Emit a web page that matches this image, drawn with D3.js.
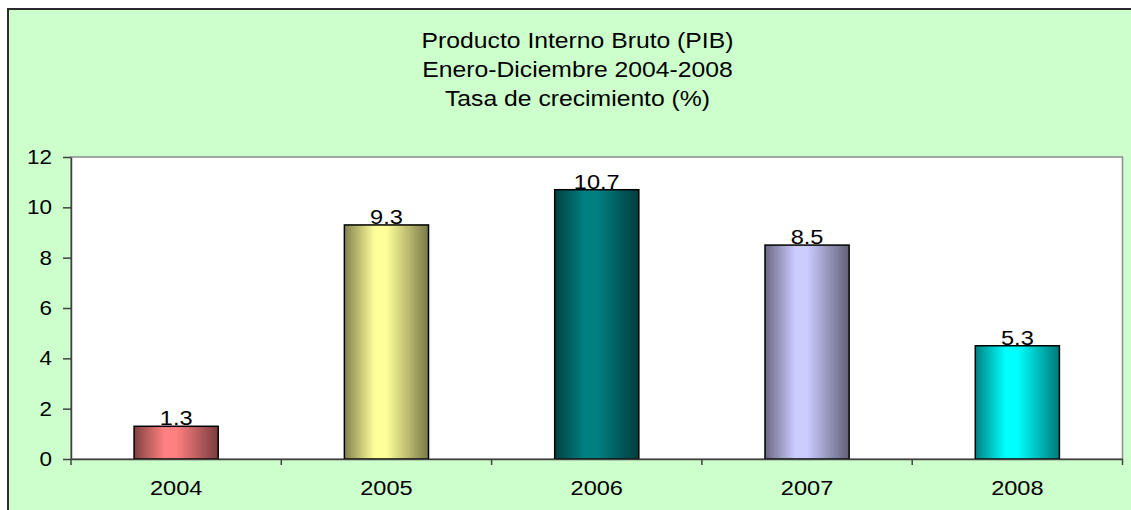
<!DOCTYPE html>
<html>
<head>
<meta charset="utf-8">
<script src="https://cdn.jsdelivr.net/npm/d3@7"></script>
<style>
    body { margin: 0; background: #ffffff; }
    text { font-family: "Liberation Sans", Arial, sans-serif; fill: #000; }
</style>
</head>
<body>
<div id="chart"></div>
<script>
// data
const years = ["2004", "2005", "2006", "2007", "2008"]
const growth = [1.3, 9.3, 10.7, 8.5, 4.5]
const labels = ["1.3", "9.3", "10.7", "8.5", "5.3"]
const y_ticks = [0, 2, 4, 6, 8, 10, 12]
const title_lines = ["Producto Interno Bruto (PIB)", "Enero-Diciembre 2004-2008", "Tasa de crecimiento (%)"]

// excel style palette, one per bar
const bar_colors = ["#FF8080", "#FFFF99", "#008080", "#CCCCFF", "#00FFFF"]

const W = 1131, H = 510
const stretch = 1.15  // the original picture is a bit wide
const plot = {left: 71, top: 157, right: 1122.5, bottom: 459}

let svg = d3.select("#chart")
    .append("svg")
    .attr("width", W)
    .attr("height", H)

// chart area with dark frame
svg.append("rect")
    .attr("x", 8)
    .attr("y", 9)
    .attr("width", W + 10)
    .attr("height", H + 10)
    .attr("fill", "#CCFFCC")
    .attr("stroke", "#2b2b2b")
    .attr("stroke-width", 2)

function stretched_text(g, x, y, str, size, anchor) {
    return g.append("text")
        .attr("transform", "translate(" + x + "," + y + ") scale(" + stretch + ",1)")
        .attr("text-anchor", anchor)
        .style("font-size", size + "px")
        .text(str)
}

// title
title_lines.forEach(function (t, i) {
    stretched_text(svg, W / 2 + 12, 48 + i * 29, t, 21.5, "middle")
})

const x = d3.scaleBand()
    .domain(years)
    .range([plot.left, plot.right])
    .padding(0)
const y = d3.scaleLinear()
    .domain([0, 12])
    .range([plot.bottom, plot.top])

// plot background
svg.append("rect")
    .attr("x", plot.left)
    .attr("y", plot.top)
    .attr("width", plot.right - plot.left)
    .attr("height", plot.bottom - plot.top)
    .attr("fill", "#ffffff")
    .attr("stroke", "#8c8c8c")
    .attr("stroke-width", 1.5)

// gradients for the bars
let defs = svg.append("defs")
bar_colors.forEach(function (c, i) {
    let grad = defs.append("linearGradient")
        .attr("id", "bar_grad_" + i)
        .attr("x1", "0%").attr("x2", "100%")
        .attr("y1", "0%").attr("y2", "0%")
    grad.append("stop").attr("offset", "0%").attr("stop-color", d3.color(c).darker(1.9))
    grad.append("stop").attr("offset", "36%").attr("stop-color", c)
    grad.append("stop").attr("offset", "50%").attr("stop-color", c)
    grad.append("stop").attr("offset", "100%").attr("stop-color", d3.color(c).darker(2.1))
})

const bar_w = x.bandwidth() * 0.4

svg.selectAll(".bar")
    .data(growth)
    .enter()
    .append("rect")
    .attr("class", "bar")
    .attr("x", function (d, i) { return x(years[i]) + (x.bandwidth() - bar_w) / 2 })
    .attr("y", function (d) { return y(d) })
    .attr("width", bar_w)
    .attr("height", function (d) { return y(0) - y(d) })
    .attr("fill", function (d, i) { return "url(#bar_grad_" + i + ")" })
    .attr("stroke", "#000")
    .attr("stroke-width", 1.5)

// value labels
growth.forEach(function (d, i) {
    stretched_text(svg, x(years[i]) + x.bandwidth() / 2, y(d) - 1, labels[i], 20.5, "middle")
})

// y axis
let y_axis = svg.append("g")
    .attr("transform", "translate(" + plot.left + ",0)")
    .call(d3.axisLeft(y)
        .tickValues(y_ticks)
        .tickSizeInner(8)
        .tickSizeOuter(0)
        .tickFormat(""))
y_axis.selectAll("line, path").attr("stroke", "#404040").attr("stroke-width", 1.5)
y_ticks.forEach(function (t) {
    stretched_text(svg, plot.left - 19, y(t) + 7, String(t), 19.5, "end")
})

// x axis, ticks sit between the categories
let x_axis = svg.append("g")
    .attr("transform", "translate(0," + plot.bottom + ")")
    .call(d3.axisBottom(x).tickSize(0).tickFormat(""))
x_axis.select("path").attr("stroke", "#404040").attr("stroke-width", 1.5)
const bounds = years.map(function (c) { return x(c) }).concat([x.range()[1]])
x_axis.selectAll(".bound")
    .data(bounds)
    .enter()
    .append("line")
    .attr("class", "bound")
    .attr("x1", function (d) { return d })
    .attr("x2", function (d) { return d })
    .attr("y1", 0)
    .attr("y2", 6)
    .attr("stroke", "#404040")
    .attr("stroke-width", 1.5)
years.forEach(function (c) {
    stretched_text(svg, x(c) + x.bandwidth() / 2, plot.bottom + 36, c, 20.5, "middle")
})
</script>
</body>
</html>
